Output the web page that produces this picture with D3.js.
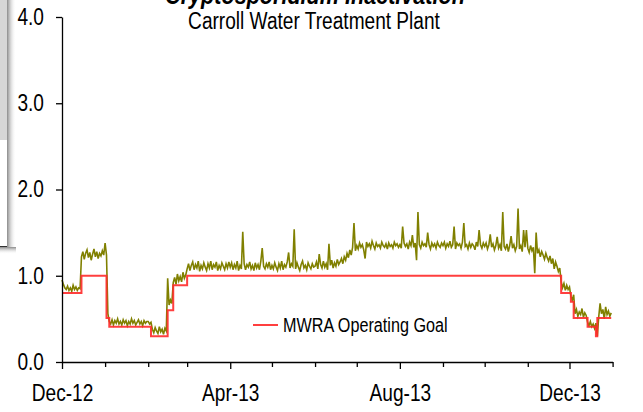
<!DOCTYPE html>
<html>
<head>
<meta charset="utf-8">
<script src="https://cdn.jsdelivr.net/npm/d3@7"></script>
<style>
  html, body { margin: 0; padding: 0; background: #fff; }
  svg { display: block; font-family: "Liberation Sans", Arial, sans-serif; }
</style>
</head>
<body>
<svg id="chart" width="643" height="412"></svg>
<script>
/* ---- Data: daily Cryptosporidium inactivation ratio, one array per month ---- */
const START = new Date(2012, 11, 1);
const dec12 = [0.95,0.90,0.86,0.84,0.88,0.83,0.86,0.82,0.89,0.84,0.87,0.83,0.86,0.85,
  1.22,1.28,1.19,1.26,1.30,1.21,1.27,1.18,1.25,1.31,1.22,1.28,1.20,1.26,1.23,1.29,1.24];
const jan13 = [1.38,1.24,0.56,0.47,0.44,0.49,0.43,0.48,0.45,0.50,0.44,0.47,0.43,0.49,0.45,0.48,
  0.42,0.47,0.44,0.50,0.45,0.48,0.43,0.46,0.49,0.44,0.47,0.42,0.48,0.45,0.47];
const feb13 = [0.47,0.44,0.46,0.38,0.34,0.40,0.36,0.33,0.41,0.35,0.38,0.32,0.39,0.36,
  0.97,0.66,0.72,0.68,0.92,0.98,0.90,1.02,0.94,0.99,0.93,1.04,0.97,1.01];
const mar13 = [1.08,1.14,1.06,1.12,1.16,1.07,1.13,1.09,1.17,1.05,1.12,1.08,1.15,1.10,1.06,1.14,
  1.09,1.17,1.07,1.13,1.10,1.16,1.06,1.12,1.08,1.15,1.11,1.07,1.14,1.09,1.16];
const apr13 = [1.10,1.15,1.07,1.13,1.09,1.17,1.06,1.12,1.08,1.51,1.14,1.07,1.13,1.10,1.16,
  1.08,1.12,1.06,1.15,1.09,1.13,1.07,1.17,1.32,1.11,1.08,1.14,1.10,1.16,1.07];
const may13 = [1.12,1.08,1.15,1.10,1.06,1.14,1.09,1.17,1.07,1.13,1.10,1.16,1.27,1.09,1.14,1.11,
  1.54,1.08,1.15,1.10,1.06,1.13,1.17,1.09,1.12,1.07,1.15,1.11,1.08,1.14,1.10];
const jun13 = [1.11,1.16,1.08,1.25,1.13,1.09,1.17,1.10,1.14,1.07,1.37,1.12,1.18,1.09,1.15,
  1.11,1.19,1.13,1.16,1.20,1.14,1.22,1.18,1.26,1.21,1.30,1.24,1.33,1.61,1.29];
const jul13 = [1.35,1.31,1.38,1.33,1.36,1.30,1.20,1.39,1.34,1.37,1.32,1.40,1.35,1.31,1.38,1.34,
  1.36,1.32,1.39,1.35,1.33,1.37,1.31,1.38,1.34,1.36,1.32,1.39,1.35,1.37,1.33];
const aug13 = [1.36,1.32,1.57,1.38,1.34,1.37,1.31,1.39,1.35,1.47,1.33,1.38,1.18,1.74,1.36,1.32,
  1.39,1.35,1.37,1.33,1.50,1.36,1.31,1.38,1.34,1.37,1.32,1.39,1.35,1.33,1.38];
const sep13 = [1.35,1.39,1.32,1.37,1.34,1.40,1.33,1.36,1.57,1.31,1.38,1.35,1.37,1.32,1.39,
  1.61,1.34,1.36,1.31,1.38,1.33,1.37,1.35,1.30,1.39,1.34,1.53,1.36,1.32,1.38];
const oct13 = [1.34,1.38,1.31,1.36,1.48,1.33,1.37,1.30,1.35,1.45,1.32,1.36,1.29,1.74,1.34,1.31,
  1.37,1.28,1.35,1.46,1.32,1.36,1.29,1.34,1.78,1.31,1.35,1.28,1.53,1.33,1.53];
const nov13 = [1.32,1.27,1.35,1.29,1.33,1.03,1.50,1.26,1.30,1.22,1.28,1.24,1.19,1.26,1.21,
  1.17,1.23,1.14,1.20,1.08,1.16,1.11,1.05,1.09,0.93,0.86,0.91,0.83,0.89,0.84];
const dec13 = [0.87,0.76,0.72,0.78,0.56,0.61,0.53,0.58,0.55,0.62,0.52,0.57,0.54,0.46,0.42,0.47,
  0.41,0.44,0.39,0.45,0.30,0.52,0.68,0.56,0.61,0.50,0.64,0.55,0.59,0.53,0.57];

/* ---- MWRA operating goal (step changes) ---- */
const goalDates  = ['2012-12-01','2012-12-15','2013-01-02','2013-01-04','2013-02-03','2013-02-15',
  '2013-02-19','2013-03-01','2013-11-25','2013-12-02','2013-12-04','2013-12-14','2013-12-20',
  '2013-12-21','2013-12-31'];
const goalValues = [0.80,1.00,0.51,0.41,0.30,0.60,0.89,1.00,0.80,0.70,0.51,0.41,0.30,0.51,0.51];

const yTicks = [0, 1, 2, 3, 4];
const xLabelMonths = ['Dec-12', 'Apr-13', 'Aug-13', 'Dec-13'];
const TITLE = 'Cryptosporidium Inactivation';
const SUBTITLE = 'Carroll Water Treatment Plant';
const LEGEND_LABEL = 'MWRA Operating Goal';
const NARROW = 0.83;  // no narrow font installed, squeeze glyphs instead

/* ---- Build series ---- */
const parse = d3.timeParse('%Y-%m-%d');
const series = [dec12, jan13, feb13, mar13, apr13, may13, jun13, jul13, aug13, sep13, oct13, nov13, dec13]
  .flat()
  .map((v, i) => ({ date: d3.timeDay.offset(START, i), value: v }));
const goal = goalDates.map((d, i) => ({ date: parse(d), value: goalValues[i] }));

const svg = d3.select('#chart');

/* ---- Scales ---- */
const x = d3.scaleTime().domain([START, new Date(2014, 0, 1)]).range([62, 612.6]);
const y = d3.scaleLinear().domain([0, 4]).range([362, 17]);

/* ---- Overlapping panel shadow at the far left ---- */
const defs = svg.append('defs');
const gH = defs.append('linearGradient').attr('id', 'shH');
gH.append('stop').attr('offset', 0).attr('stop-color', '#8a8a8a');
gH.append('stop').attr('offset', 1).attr('stop-color', '#fff').attr('stop-opacity', 0);
const gV = defs.append('linearGradient').attr('id', 'shV').attr('x2', 0).attr('y2', 1);
gV.append('stop').attr('offset', 0).attr('stop-color', '#8a8a8a');
gV.append('stop').attr('offset', 1).attr('stop-color', '#fff').attr('stop-opacity', 0);

svg.append('rect').attr('x', 0).attr('y', 0).attr('width', 7).attr('height', 140).attr('fill', '#d6d6d6');
svg.append('rect').attr('x', 7).attr('y', 0).attr('width', 9).attr('height', 247).attr('fill', 'url(#shH)');
svg.append('rect').attr('x', 0).attr('y', 247).attr('width', 16).attr('height', 7).attr('fill', 'url(#shV)');
svg.append('line').attr('x1', 0).attr('x2', 7).attr('y1', 246.5).attr('y2', 246.5)
  .attr('stroke', '#333').attr('stroke-width', 1);

/* ---- Titles (title is clipped by the top edge, as in the source) ---- */
svg.append('text').attr('x', 315).attr('y', 4).attr('text-anchor', 'middle')
  .style('font-size', '26px').style('font-weight', 'bold').style('font-style', 'italic')
  .text(TITLE);
svg.append('text').attr('x', 314).attr('y', 29).attr('text-anchor', 'middle')
  .style('font-size', '23px').text(SUBTITLE);

/* ---- Lines ---- */
const line = d3.line().x(d => x(d.date)).y(d => y(d.value));
svg.append('path').datum(series)
  .attr('fill', 'none').attr('stroke', '#808000').attr('stroke-width', 1.6)
  .attr('d', line);

const stepLine = d3.line().curve(d3.curveStepAfter).x(d => x(d.date)).y(d => y(d.value));
svg.append('path').datum(goal)
  .attr('fill', 'none').attr('stroke', '#ff2a2a').attr('stroke-opacity', 0.9).attr('stroke-width', 2)
  .attr('d', stepLine);

/* ---- Axes ---- */
const yAxis = svg.append('g').attr('transform', 'translate(62,0)')
  .call(d3.axisLeft(y).tickValues(yTicks).tickFormat(d3.format('.1f')).tickSize(6).tickSizeOuter(0).tickPadding(12));

const fmt = d3.timeFormat('%b-%y');
const isMajor = d => xLabelMonths.includes(fmt(d));
const xAxis = svg.append('g').attr('transform', 'translate(0,362)')
  .call(d3.axisBottom(x).ticks(d3.timeMonth.every(1))
    .tickFormat(d => isMajor(d) ? fmt(d) : '').tickSize(5).tickSizeOuter(0).tickPadding(18));
xAxis.selectAll('.tick line').attr('y2', d => isMajor(d) ? 7 : 5);

[yAxis, xAxis].forEach(g => {
  g.selectAll('path, line').attr('stroke', '#000').attr('stroke-width', 1.3);
  g.selectAll('text').attr('fill', '#000').style('font-size', '23px')
    .style('font-family', '"Liberation Sans", Arial, sans-serif');
});

/* ---- Legend ---- */
const legend = svg.append('g').attr('transform', 'translate(253,325)');
legend.append('line').attr('x1', 0).attr('x2', 25)
  .attr('stroke', '#ff2a2a').attr('stroke-opacity', 0.9).attr('stroke-width', 2);
legend.append('text').attr('x', 30).attr('y', 0).attr('dy', '0.36em')
  .style('font-size', '19.5px').text(LEGEND_LABEL);

/* ---- Squeeze all texts horizontally to mimic the narrow face ---- */
svg.selectAll('text').each(function () {
  const len = this.getComputedTextLength();
  if (len > 0) d3.select(this).attr('textLength', len * NARROW).attr('lengthAdjust', 'spacingAndGlyphs');
});
</script>
</body>
</html>
